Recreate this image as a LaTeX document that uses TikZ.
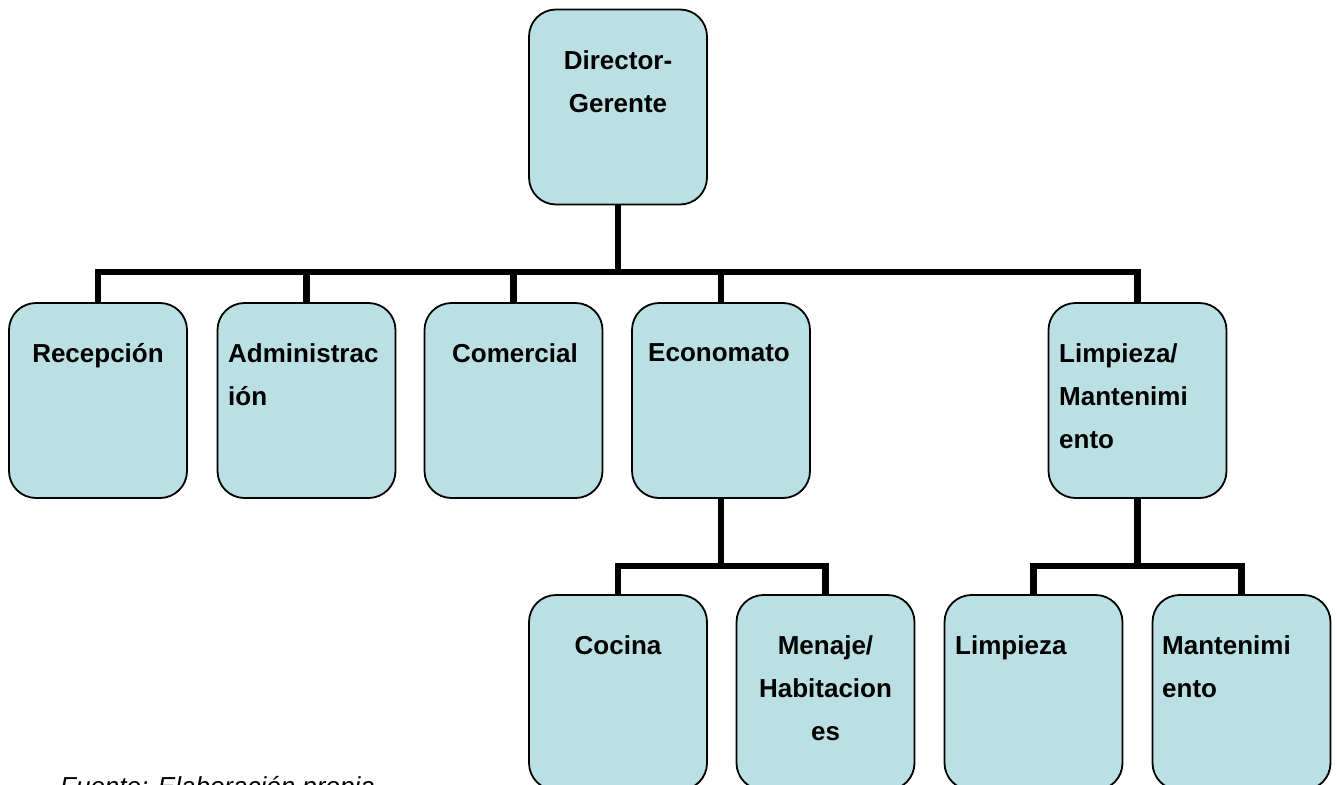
\documentclass[tikz,border=0pt]{standalone}
\usepackage{fontspec}
\setmainfont{Liberation Sans}
\definecolor{boxfill}{RGB}{187,224,227}
\begin{document}
\begin{tikzpicture}[x=1pt,y=-1pt,
  orgbox/.style={draw=black, line width=1.8pt, fill=boxfill, rounded corners=27pt,
    minimum width=178pt, minimum height=195pt, inner sep=0pt},
  lblc/.style={font=\fontsize{26}{43}\selectfont\bfseries, inner sep=0pt, anchor=north, align=center},
  lbll/.style={font=\fontsize{26}{43}\selectfont\bfseries, inner sep=0pt, anchor=north west, align=left},
  conn/.style={line width=6.5pt, draw=black}]
\useasboundingbox (0,0) rectangle (1337,784);
\clip (0,0) rectangle (1337,784);
% boxes
\node[orgbox] (dir) at (618,107) {};
\node[orgbox] (rec) at (98,400.5) {};
\node[orgbox] (adm) at (306.5,400.5) {};
\node[orgbox] (com) at (513.5,400.5) {};
\node[orgbox] (eco) at (721,400.5) {};
\node[orgbox] (lm)  at (1137.5,400.5) {};
\node[orgbox] (coc) at (618,692.5) {};
\node[orgbox] (men) at (825.5,692.5) {};
\node[orgbox] (lim) at (1033.5,692.5) {};
\node[orgbox] (man) at (1241.5,692.5) {};
% labels
\node[lblc] (tdir) at (618,50) {Director-\\Gerente};
\node[lblc] (trec) at (98,343) {Recepción};
\node[lbll] (tadm) at (228,343) {Administrac\\ión};
\node[lblc] (tcom) at (515,343) {Comercial};
\node[lblc] (teco) at (719,343) {Economato};
\node[lbll] (tlm)  at (1059,343) {Limpieza/\\Mantenimi\\ento};
\node[lblc] (tcoc) at (618,635) {Cocina};
\node[lblc] (tmen) at (825.5,635) {Menaje/\\Habitacion\\es};
\node[lbll] (tlim) at (955,635) {Limpieza};
\node[lbll] (tman) at (1162,635) {Mantenimi\\ento};
% connectors
\coordinate (bus) at (618,272);
\coordinate (bus2) at (721,566);
\coordinate (bus3) at (1137.5,566);
\draw[conn] (dir.south) -- (bus);
\draw[conn] (rec.north) -- (rec.north |- bus) -- (lm.north |- bus) -- (lm.north);
\draw[conn] (adm.north) -- (adm.north |- bus);
\draw[conn] (com.north) -- (com.north |- bus);
\draw[conn] (eco.north) -- (eco.north |- bus);
\draw[conn] (eco.south) -- (bus2);
\draw[conn] (coc.north) -- (coc.north |- bus2) -- (men.north |- bus2) -- (men.north);
\draw[conn] (lm.south) -- (bus3);
\draw[conn] (lim.north) -- (lim.north |- bus3) -- (man.north |- bus3) -- (man.north);
% source
\node[font=\fontsize{26}{30}\selectfont\itshape, anchor=base west, inner sep=0pt] (src) at (60,795) {Fuente: Elaboración propia};
\end{tikzpicture}
\end{document}
